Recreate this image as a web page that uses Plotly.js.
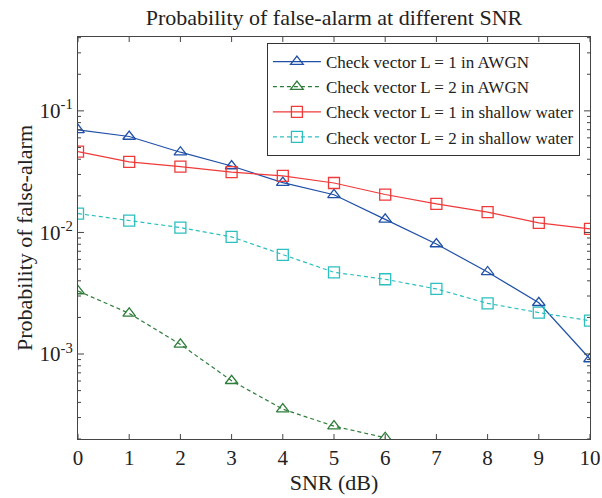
<!DOCTYPE html>
<html>
<head>
<meta charset="utf-8">
<script src="https://cdn.plot.ly/plotly-3.0.1.min.js"></script>
<style>html,body{margin:0;padding:0;background:#fff;}#chart{width:602px;height:498px;}</style>
</head>
<body>
<div id="chart"></div>
<script>
var snr = [0, 1, 2, 3, 4, 5, 6, 7, 8, 9, 10];
var awgnL1 = [0.0698, 0.0615, 0.0457, 0.0352, 0.0257, 0.0204, 0.0128, 0.00803, 0.00473, 0.00264, 0.00091];
var awgnL2 = [0.0033, 0.00216, 0.0012, 0.000603, 0.000352, 0.000255, 0.000205];
var swL1 = [0.0462, 0.038, 0.0348, 0.0313, 0.0292, 0.0255, 0.0205, 0.0172, 0.0147, 0.0120, 0.0107];
var swL2 = [0.0143, 0.0125, 0.01096, 0.00919, 0.00653, 0.0047, 0.00412, 0.00343, 0.00261, 0.00219, 0.00188];
var names = ["Check vector L = 1 in AWGN", "Check vector L = 2 in AWGN",
             "Check vector L = 1 in shallow water", "Check vector L = 2 in shallow water"];
var yMajor = [1e-3, 1e-2, 1e-1];
var yMajorText = ["10<sup>-3</sup>", "10<sup>-2</sup>", "10<sup>-1</sup>"];
var yMin = 2e-4, yMax = 0.405;
var yMinor = [];
[1e-4, 1e-3, 1e-2, 1e-1].forEach(function(d){
  for (var k = 2; k <= 9; k++) { var v = d * k; if (v >= yMin && v <= yMax) yMinor.push(v); }
});

function tr(y, name, color, dash, symbol) {
  return {
    x: snr.slice(0, y.length), y: y, name: name, type: 'scatter', mode: 'lines+markers',
    line: {color: color, width: 1.2, dash: dash},
    marker: {symbol: symbol, size: 11, color: color, line: {color: color, width: 1.3}},
    cliponaxis: true
  };
}
var data = [
  tr(awgnL1, names[0], '#2050a8', 'solid', 'triangle-up-open'),
  tr(awgnL2, names[1], '#2e7d3a', '4px,3px', 'triangle-up-open'),
  tr(swL1, names[2], '#f03a3a', 'solid', 'square-open'),
  tr(swL2, names[3], '#2cbfbf', '4px,3px', 'square-open')
];

// inward tick marks, placed at axis values (ticks of the axes, not data marks)
var tc = '#444';
var shapes = [];
snr.forEach(function(v){
  [[0, 5], [1, -5]].forEach(function(p){
    shapes.push({type: 'line', layer: 'above', xref: 'x', yref: 'paper', ysizemode: 'pixel',
      yanchor: p[0], x0: v, x1: v, y0: 0, y1: p[1], line: {color: tc, width: 1}});
  });
});
function yTick(v, len) {
  [[0, len], [1, -len]].forEach(function(p){
    shapes.push({type: 'line', layer: 'above', xref: 'paper', yref: 'y', xsizemode: 'pixel',
      xanchor: p[0], x0: 0, x1: p[1], y0: v, y1: v, line: {color: tc, width: 1}});
  });
}
yMajor.forEach(function(v){ yTick(v, 6); });
yMinor.forEach(function(v){ yTick(v, 3); });

var fam = 'Liberation Serif, Times New Roman, serif';
var axisFont = {family: fam, size: 22, color: '#222'};
var layout = {
  width: 602, height: 498,
  margin: {l: 78, r: 12, t: 37, b: 59},
  paper_bgcolor: '#fff', plot_bgcolor: '#fff',
  font: {family: fam, color: '#222'},
  hovermode: false,
  title: {text: 'Probability of false-alarm at different SNR', font: {family: fam, size: 22, color: '#222'},
          x: 0.5, xref: 'paper', xanchor: 'center', y: 0.965, yanchor: 'middle'},
  xaxis: {
    range: [0, 10], dtick: 1, ticks: '',
    showline: true, linecolor: tc, linewidth: 1, mirror: true,
    showgrid: false, zeroline: false, tickfont: {family: fam, size: 21, color: '#222'},
    title: {text: 'SNR (dB)', font: axisFont, standoff: 4}
  },
  yaxis: {
    type: 'log', range: [Math.log10(yMin), Math.log10(yMax)],
    tickmode: 'array', tickvals: yMajor, ticktext: yMajorText, ticks: '',
    showline: true, linecolor: tc, linewidth: 1, mirror: true,
    showgrid: false, zeroline: false, tickfont: {family: fam, size: 21, color: '#222'},
    title: {text: 'Probability of false-alarm', font: axisFont, standoff: 0}
  },
  shapes: shapes,
  showlegend: true,
  legend: {
    x: 0.369, y: 0.985, xanchor: 'left', yanchor: 'top',
    bgcolor: '#fff', bordercolor: '#333', borderwidth: 1,
    font: {family: fam, size: 17, color: '#222'}, itemwidth: 48, tracegroupgap: 0
  }
};
Plotly.newPlot('chart', data, layout, {displayModeBar: false});
</script>
</body>
</html>
